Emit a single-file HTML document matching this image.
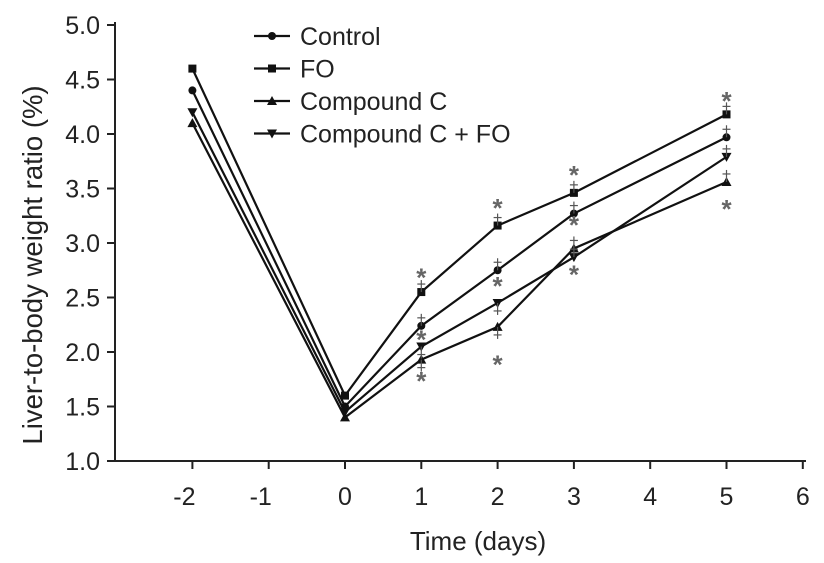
<!DOCTYPE html>
<html><head><meta charset="utf-8"><style>
body{margin:0;background:#fff;}
svg{display:block;font-family:"Liberation Sans",sans-serif;}
</style></head><body>
<svg id="chart" width="824" height="563">
<g id="axes"></g><g id="series"></g><g id="legend"></g>
</svg>
<script>
const days=[-2,0,1,2,3,5];
const seriesNames=["Control","FO","Compound C","Compound C + FO"];
const control=[4.4,1.5,2.24,2.75,3.27,3.97];
const fo=[4.6,1.6,2.55,3.16,3.46,4.18];
const compC=[4.1,1.4,1.93,2.23,2.95,3.56];
const compCFO=[4.2,1.45,2.05,2.45,2.87,3.79];
const xTicks=[-2,-1,0,1,2,3,4,5,6];
const yTicks=["1.0","1.5","2.0","2.5","3.0","3.5","4.0","4.5","5.0"];
const starDays=[1,1,1,2,2,2,3,3,3,5,5];
const starVals=[2.72,1.77,2.15,3.36,1.92,2.64,3.66,2.75,3.2,4.34,3.35];
const NS="http://www.w3.org/2000/svg";
const X=v=>345+76.3*v, Y=v=>461-(v-1)*109;
function el(t,a,p){const e=document.createElementNS(NS,t);for(const k in a)e.setAttribute(k,a[k]);p.appendChild(e);return e;}
const ax=document.getElementById('axes');
let l=el('line',{x1:115,y1:22,x2:115,y2:462,stroke:'#222','stroke-width':2},ax);

l=el('line',{x1:114,y1:461,x2:806,y2:461,stroke:'#222','stroke-width':2},ax);

yTicks.forEach(t=>{const y=Y(+t);el('line',{x1:107,y1:y,x2:115,y2:y,stroke:'#222','stroke-width':2},ax);
const tx=el('text',{x:100,y:y+9,'text-anchor':'end','font-size':25,fill:'#222'},ax);tx.textContent=t;
});
xTicks.forEach(t=>{const x=X(t);el('line',{x1:x,y1:461,x2:x,y2:469,stroke:'#222','stroke-width':2},ax);
const tx=el('text',{x:x-(t<0?8:0),y:505,'text-anchor':'middle','font-size':25,fill:'#222'},ax);tx.textContent=t;
});
let tt=el('text',{x:478,y:550,'text-anchor':'middle','font-size':26,fill:'#222'},ax);tt.textContent='Time (days)';

tt=el('text',{x:0,y:0,'text-anchor':'middle','font-size':27.5,fill:'#222',transform:'translate(42,265) rotate(-90)'},ax);tt.textContent='Liver-to-body weight ratio (%)';

function marker(kind,x,y,g){
 if(kind===0)return el('circle',{cx:x,cy:y,r:4,fill:'#111'},g);
 if(kind===1)return el('rect',{x:x-4,y:y-4,width:8,height:8,fill:'#111'},g);
 if(kind===2)return el('polygon',{points:`${x},${y-5} ${x-5},${y+4} ${x+5},${y+4}`,fill:'#111'},g);
 return el('polygon',{points:`${x},${y+5} ${x-5},${y-4} ${x+5},${y-4}`,fill:'#111'},g);
}
const sg=document.getElementById('series');
[control,fo,compC,compCFO].forEach((vals,i)=>{
 const g=el('g',{},sg);
 el('polyline',{points:vals.map((v,j)=>X(days[j])+','+Y(v)).join(' '),fill:'none',stroke:'#111','stroke-width':2.2},g);
 vals.forEach((v,j)=>{const m=marker(i,X(days[j]),Y(v),g);
  if(j>1){const d=(i===2||i===3)&&j<4?1:-1;el('line',{x1:X(days[j]),y1:Y(v),x2:X(days[j]),y2:Y(v)+d*12,stroke:'#555','stroke-width':1.2},g);
  el('line',{x1:X(days[j])-4,y1:Y(v)+d*8,x2:X(days[j])+4,y2:Y(v)+d*8,stroke:'#555','stroke-width':1.2},g);}});
});
starDays.forEach((d,i)=>{const t=el('text',{x:X(d),y:Y(starVals[i])+13,'text-anchor':'middle','font-size':26,fill:'#666','font-weight':'bold'},sg);t.textContent='*';
 });
const lg=document.getElementById('legend');
seriesNames.forEach((n,i)=>{const y=36+i*32.5;const g=el('g',{},lg);
 
 el('line',{x1:254,y1:y,x2:290,y2:y,stroke:'#111','stroke-width':2.2},g);marker(i,272,y,g);
 const t=el('text',{x:300,y:y+9,'font-size':25,fill:'#222'},g);t.textContent=n;});
</script>
</body></html>
